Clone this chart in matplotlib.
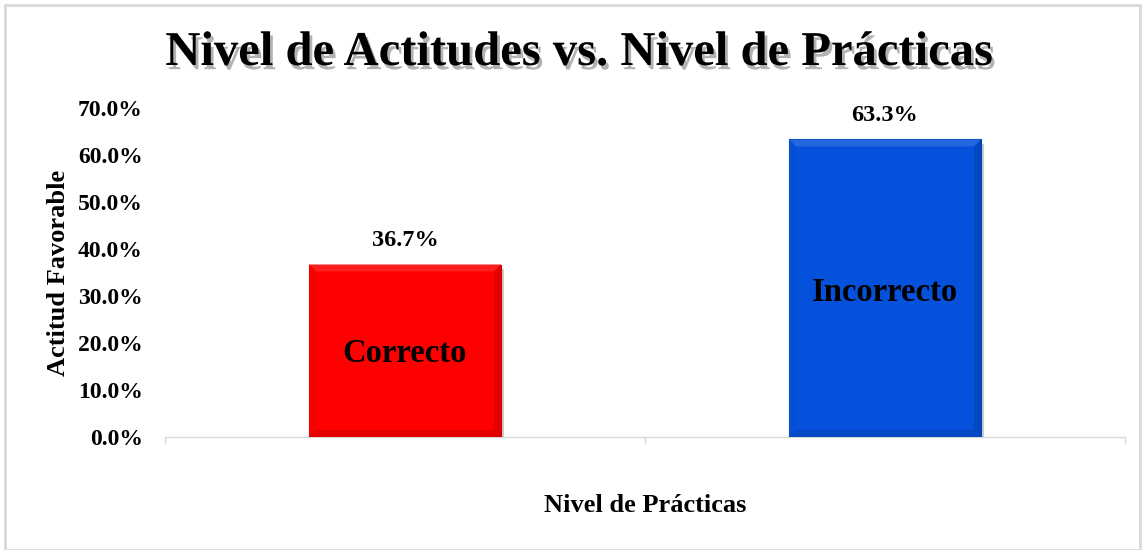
import matplotlib
matplotlib.use("Agg")
import matplotlib.pyplot as plt
import matplotlib.patheffects as pe
from matplotlib.patches import Rectangle, Polygon
import matplotlib.colors as mcolors

categories = ["Correcto", "Incorrecto"]
values = [36.7, 63.3]
colors = ["#FE0000", "#0651DB"]
yticks = [0, 10, 20, 30, 40, 50, 60, 70]
ytick_labels = ["0.0%", "10.0%", "20.0%", "30.0%", "40.0%", "50.0%", "60.0%", "70.0%"]

W, H = 1146, 550
fig = plt.figure(figsize=(W / 100, H / 100), dpi=100)
serif = ["Liberation Serif", "DejaVu Serif"]

# outer frame
fig.patches.append(Rectangle((5 / W, 0), (1140 - 5) / W, 545 / H, transform=fig.transFigure,
                             fill=False, edgecolor="#d9d9d9", linewidth=2))

ax = fig.add_axes([165 / W, (H - 437) / H, 960 / W, (437 - 108) / H])
x = list(range(len(categories)))
bars = ax.bar(x, values, width=0.4, color=colors, zorder=3)
ax.set_xlim(-0.5, 1.5)
ax.set_ylim(0, 70)


def shade(c, f):
    r, g, b = mcolors.to_rgb(c)
    if f >= 0:
        return (r + (1 - r) * f, g + (1 - g) * f, b + (1 - b) * f)
    return (r * (1 + f), g * (1 + f), b * (1 + f))


# bevel effect derived from each bar's geometry
fig.canvas.draw()
inv = ax.transData.inverted()
for b, c in zip(bars, colors):
    b.set_path_effects([pe.SimplePatchShadow(offset=(2, -3), shadow_rgbFace="#000000", alpha=0.2),
                        pe.Normal()])
    b.set_edgecolor(shade(c, -0.2))
    b.set_linewidth(0.8)
    x0, y0 = b.get_x(), b.get_y()
    x1, y1 = x0 + b.get_width(), y0 + b.get_height()
    px0, py0 = ax.transData.transform((x0, y0))
    px1, py1 = ax.transData.transform((x1, y1))
    t = 7
    ix0, iy0 = inv.transform((px0 + t, py0 + t))
    ix1, iy1 = inv.transform((px1 - t, py1 - t))
    ax.add_patch(Polygon([(x0, y1), (x1, y1), (ix1, iy1), (ix0, iy1)], closed=True,
                         facecolor=shade(c, 0.12), edgecolor="none", zorder=3.5))
    ax.add_patch(Polygon([(x0, y0), (x1, y0), (ix1, iy0), (ix0, iy0)], closed=True,
                         facecolor=shade(c, -0.1), edgecolor="none", zorder=3.5))
    ax.add_patch(Polygon([(x0, y0), (x0, y1), (ix0, iy1), (ix0, iy0)], closed=True,
                         facecolor=shade(c, -0.04), edgecolor="none", zorder=3.5))
    ax.add_patch(Polygon([(x1, y0), (x1, y1), (ix1, iy1), (ix1, iy0)], closed=True,
                         facecolor=shade(c, -0.12), edgecolor="none", zorder=3.5))

ax.set_yticks(yticks)
ax.set_yticklabels(ytick_labels, fontfamily=serif, fontweight="bold", fontsize=17)
ax.tick_params(axis="y", length=0, pad=16)
ax.set_xticks([-0.5, 0.5, 1.5])
ax.set_xticklabels([])
ax.tick_params(axis="x", length=5, color="#d9d9d9", width=1)
for s in ["top", "right", "left"]:
    ax.spines[s].set_visible(False)
ax.spines["bottom"].set_color("#d9d9d9")
ax.spines["bottom"].set_linewidth(1)

for xi, v, cat in zip(x, values, categories):
    ax.text(xi, v + 5.1, f"{v:.1f}%", ha="center", va="center", fontfamily=serif,
            fontweight="bold", fontsize=17.5)
    ax.text(xi, v * 0.485, cat, ha="center", va="center",
            fontfamily=serif, fontweight="bold", fontsize=23.5, zorder=5)

ax.set_ylabel("Actitud Favorable", fontfamily=serif, fontweight="bold", fontsize=19, labelpad=6)
fig.text(645 / W, 1 - 506 / H, "Nivel de Prácticas", ha="center", va="center",
         fontfamily=serif, fontweight="bold", fontsize=19)
fig.text(579 / W, 1 - 53 / H, "Nivel de Actitudes vs. Nivel de Prácticas", ha="center",
         va="center", fontfamily=serif, fontweight="bold", fontsize=35,
         path_effects=[pe.withSimplePatchShadow(offset=(2, -3), shadow_rgbFace="#000000", alpha=0.3)])

fig.savefig("out.png", dpi=100)
